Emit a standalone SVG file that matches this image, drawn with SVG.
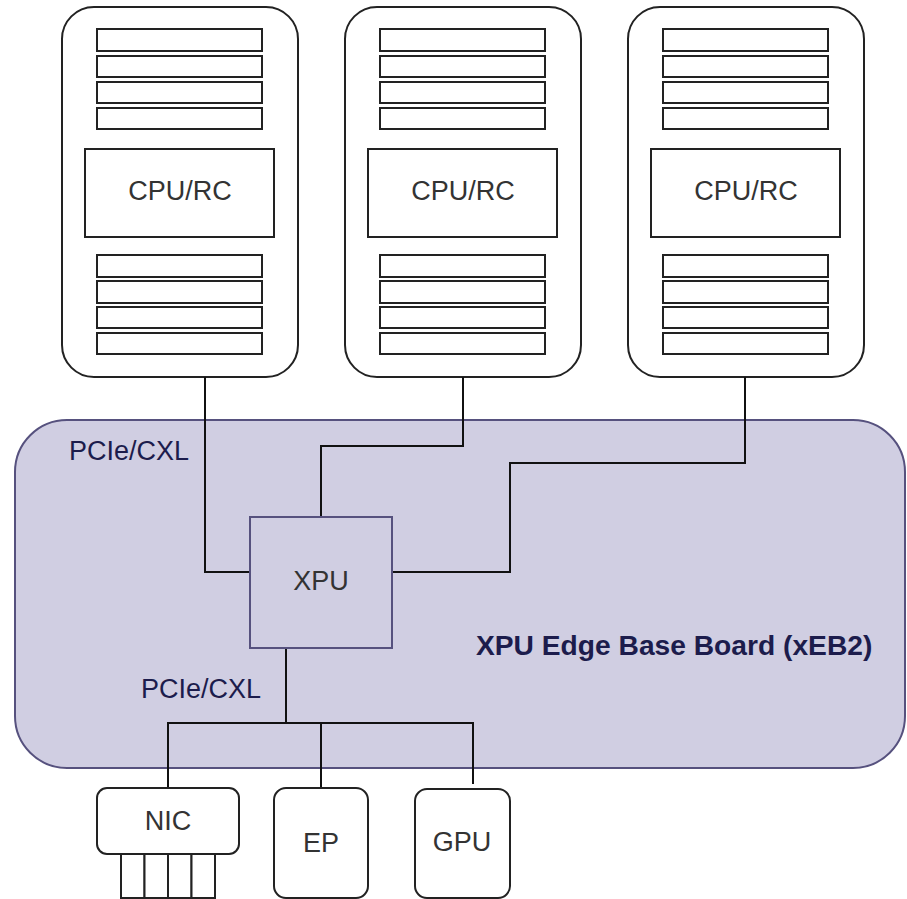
<svg xmlns="http://www.w3.org/2000/svg" width="907" height="899" viewBox="0 0 907 899">
<style>
.srv{fill:#fff;stroke:#222;stroke-width:2}
.bar{fill:#fff;stroke:#222;stroke-width:2}
.lbl{font-family:"Liberation Sans",Arial,sans-serif;font-size:27px;fill:#333;text-anchor:middle}
.blbl{font-family:"Liberation Sans",Arial,sans-serif;font-size:27px;fill:#1c1c4c}
.title{font-family:"Liberation Sans",Arial,sans-serif;font-size:28.2px;font-weight:bold;fill:#1c1c4c}
.board{fill:#d0cee2;stroke:#56517e;stroke-width:2}
.wire{fill:none;stroke:#111;stroke-width:2}
.dev{fill:#fff;stroke:#222;stroke-width:2}
</style>
<defs>
<g id="server">
<rect class="srv" x="0" y="0" width="236" height="370" rx="32"/>
<rect class="bar" x="35" y="22" width="165" height="22"/>
<rect class="bar" x="35" y="49" width="165" height="21"/>
<rect class="bar" x="35" y="75" width="165" height="21"/>
<rect class="bar" x="35" y="101" width="165" height="21"/>
<rect class="bar" x="23" y="142" width="189" height="88"/>
<rect class="bar" x="35" y="248" width="165" height="22"/>
<rect class="bar" x="35" y="274" width="165" height="22"/>
<rect class="bar" x="35" y="300" width="165" height="21"/>
<rect class="bar" x="35" y="326" width="165" height="21"/>
<text class="lbl" x="118" y="193">CPU/RC</text>
</g>
</defs>
<g id="server1"><use href="#server" x="62" y="7"/></g>
<g id="server2"><use href="#server" x="345" y="7"/></g>
<g id="server3"><use href="#server" x="628" y="7"/></g>
<g id="board">
<rect class="board" x="15" y="420" width="890" height="348" rx="52"/>
<text class="blbl" x="69" y="460">PCIe/CXL</text>
<text class="blbl" x="141" y="698">PCIe/CXL</text>
<text class="title" x="476" y="655">XPU Edge Base Board (xEB2)</text>
</g>
<g id="connectors">
<path class="wire" d="M205,377 V572 H250"/>
<path class="wire" d="M463,377 V446 H321 V517"/>
<path class="wire" d="M745,377 V463 H510 V572 H392"/>
<path class="wire" d="M286,648 V723"/>
<path class="wire" d="M168,788 V723 H473 V784"/>
<path class="wire" d="M321,723 V788"/>
</g>
<g id="xpu">
<rect class="board" x="250" y="517" width="142" height="131"/>
<text class="lbl" x="321" y="590">XPU</text>
</g>
<g id="nic">
<rect class="dev" x="97" y="788" width="142" height="66" rx="10"/>
<rect class="dev" x="121" y="854" width="23.5" height="44"/>
<rect class="dev" x="144.5" y="854" width="23.5" height="44"/>
<rect class="dev" x="168" y="854" width="23.5" height="44"/>
<rect class="dev" x="191.5" y="854" width="23.5" height="44"/>
<text class="lbl" x="168" y="830">NIC</text>
</g>
<g id="ep">
<rect class="dev" x="274" y="788" width="94" height="110" rx="12"/>
<text class="lbl" x="321" y="852">EP</text>
</g>
<g id="gpu">
<rect class="dev" x="415" y="789" width="95" height="109" rx="12"/>
<text class="lbl" x="462" y="851">GPU</text>
</g>
</svg>
